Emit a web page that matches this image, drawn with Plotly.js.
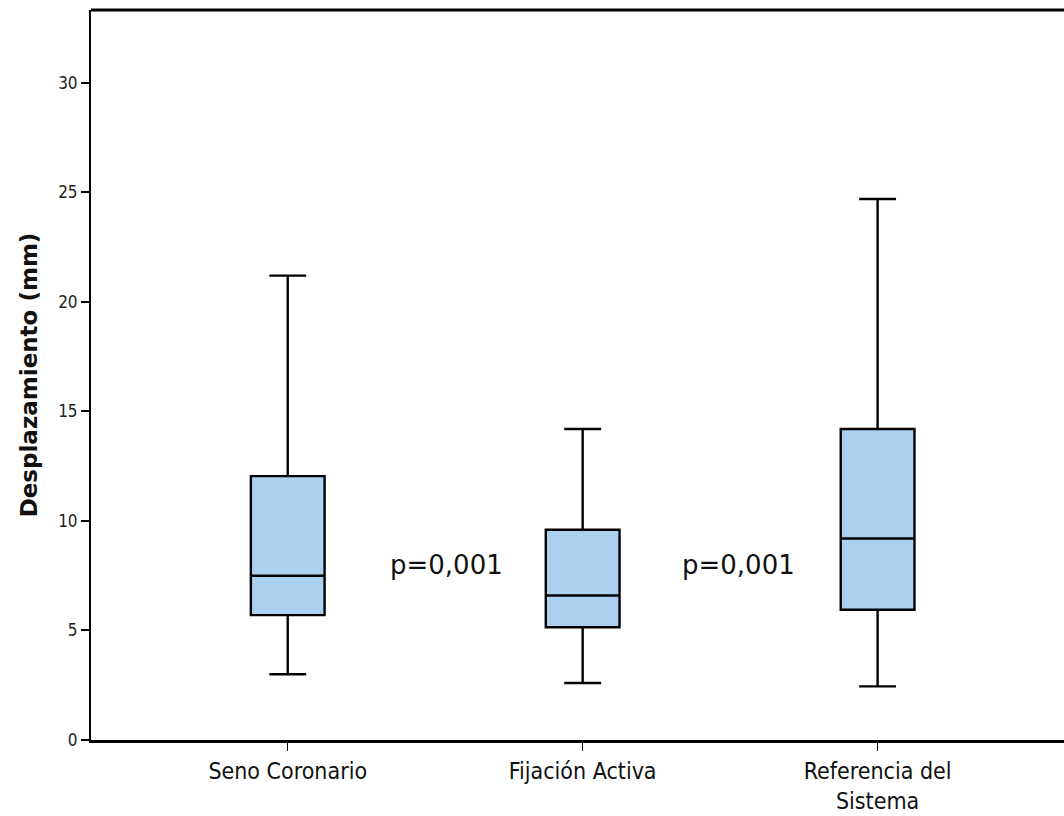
<!DOCTYPE html>
<html>
<head>
<meta charset="utf-8">
<script src="https://cdn.plot.ly/plotly-3.0.1.min.js"></script>
<style>html,body{margin:0;padding:0;background:#fff;}#chart{width:1064px;height:816px;}</style>
</head>
<body>
<div id="chart"></div>
<script>
const categories = ["Seno Coronario", "Fijación Activa", "Referencia del<br>Sistema"];
const lowerWhisker = [3.0, 2.6, 2.45];
const q1Values = [5.7, 5.15, 5.95];
const medianValues = [7.5, 6.6, 9.2];
const q3Values = [12.05, 9.6, 14.2];
const upperWhisker = [21.2, 14.2, 24.7];
const pLabels = ["p=0,001", "p=0,001"];
const pX = [0.54, 1.53];
const pY = [8.0, 8.0];

const trace = {
  type: "box",
  x: [0, 1, 2],
  q1: q1Values,
  median: medianValues,
  q3: q3Values,
  lowerfence: lowerWhisker,
  upperfence: upperWhisker,
  width: 0.25,
  whiskerwidth: 0.5,
  fillcolor: "#abd0f0",
  line: {color: "#000000", width: 2.4},
  boxpoints: false,
  hoverinfo: "skip",
  showlegend: false
};

const annotations = pLabels.map((t, i) => ({
  x: pX[i], y: pY[i], xref: "x", yref: "y", text: t, showarrow: false,
  font: {family: "DejaVu Sans", size: 26, color: "#111"}
}));

const layout = {
  width: 1064, height: 816,
  margin: {l: 91, r: 0, t: 10, b: 76},
  paper_bgcolor: "#ffffff", plot_bgcolor: "#ffffff",
  xaxis: {
    range: [-0.667, 2.632],
    tickmode: "array", tickvals: [0, 1, 2], ticktext: categories,
    ticks: "outside", ticklen: 8, tickwidth: 1.5, tickcolor: "#000",
    showline: true, linecolor: "#000", linewidth: 3,
    showgrid: false, zeroline: false,
    tickfont: {family: "DejaVu Sans Condensed, DejaVu Sans", size: 23, color: "#111"}
  },
  yaxis: {
    range: [0, 33.33],
    tickvals: [0, 5, 10, 15, 20, 25, 30],
    ticks: "outside", ticklen: 8, tickwidth: 2, tickcolor: "#000",
    showline: true, linecolor: "#000", linewidth: 2,
    showgrid: false, zeroline: false,
    tickfont: {family: "DejaVu Sans Condensed, DejaVu Sans", size: 17, color: "#222"},
    title: {text: "Desplazamiento (mm)", font: {family: "DejaVu Sans", size: 23, color: "#111", weight: "bold"}, standoff: 14}
  },
  shapes: [{type: "line", xref: "paper", yref: "paper", x0: 0, x1: 1, y0: 1, y1: 1, line: {color: "#000", width: 3}}],
  annotations: annotations
};

Plotly.newPlot("chart", [trace], layout, {displayModeBar: false, staticPlot: true});
</script>
</body>
</html>
